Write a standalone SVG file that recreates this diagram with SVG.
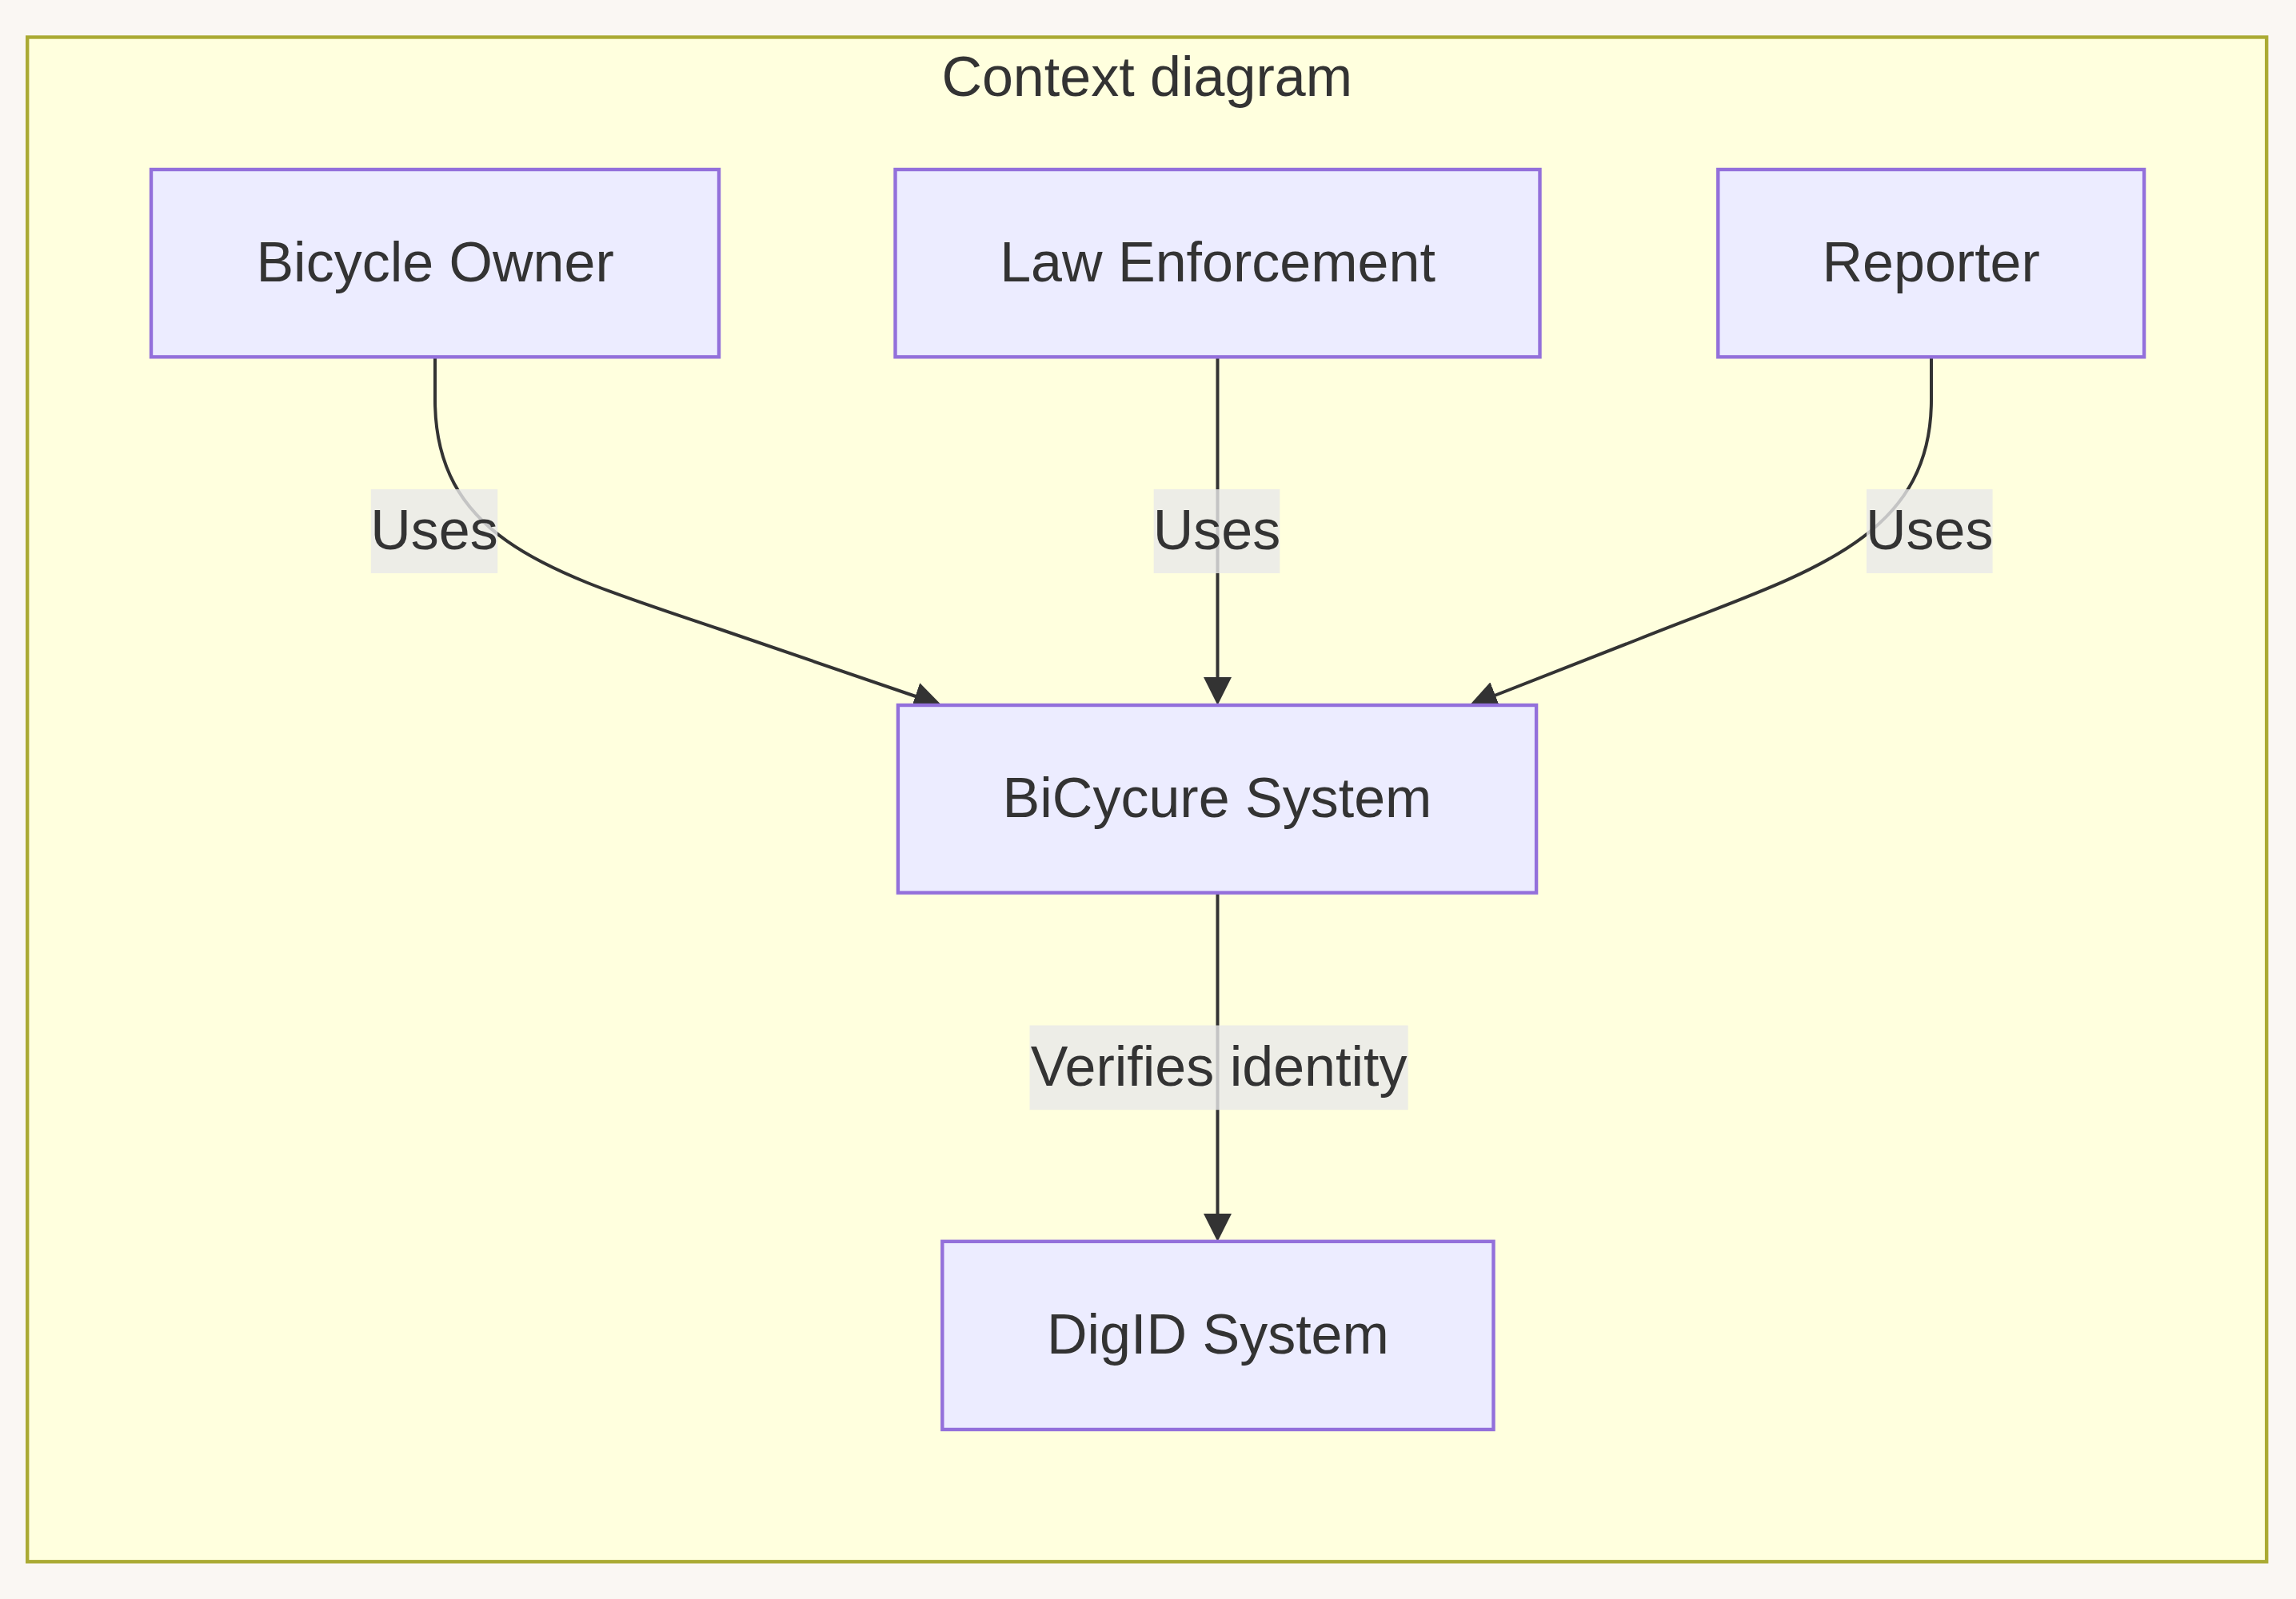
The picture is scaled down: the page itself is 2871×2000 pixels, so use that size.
<svg xmlns="http://www.w3.org/2000/svg" width="2871" height="2000" viewBox="0 0 2871 2000">
  <defs>
    <style>
      .txt { font-family: "Liberation Sans", Arial, Helvetica, sans-serif; font-size: 70px; fill: #333333; text-anchor: middle; }
      .node rect { fill: #ECECFF; stroke: #9370DB; stroke-width: 4.4; }
      .edge { fill: none; stroke: #333333; stroke-width: 4; }
      .lbl { fill: #e8e8e8; fill-opacity: 0.8; }
    </style>
    <marker id="arrow" viewBox="0 0 10 10" refX="5" refY="5" markerUnits="userSpaceOnUse" markerWidth="35" markerHeight="35" orient="auto">
      <path d="M0,0 L10,5 L0,10 z" fill="#333333"/>
    </marker>
  </defs>

  <rect x="0" y="0" width="2871" height="2000" fill="#faf7f3"/>

  <g id="cluster-context">
    <rect x="34.2" y="46.5" width="2800" height="1906.8" fill="#ffffde" stroke="#aaaa33" stroke-width="4.4"/>
    <text class="txt" x="1434.2" y="120">Context diagram</text>
  </g>

  <g id="connectors">
    <path class="edge" d="M544,448 L544,500 C544,680 700,719 900,787 L1161.1,876.5" marker-end="url(#arrow)"/>
    <path class="edge" d="M1522.5,448 L1522.5,864.5" marker-end="url(#arrow)"/>
    <path class="edge" d="M2415,448 L2415,500 C2415,680 2250,719 2050,799 L1853.5,876" marker-end="url(#arrow)"/>
    <path class="edge" d="M1522.5,1118 L1522.5,1535.5" marker-end="url(#arrow)"/>
  </g>

  <g id="edge-labels">
    <g id="label-owner-uses">
      <rect class="lbl" x="463.8" y="612" width="158.4" height="105"/>
      <text class="txt" x="543" y="686.5">Uses</text>
    </g>
    <g id="label-law-uses">
      <rect class="lbl" x="1442.7" y="612" width="157.6" height="105"/>
      <text class="txt" x="1521.5" y="686.5">Uses</text>
    </g>
    <g id="label-reporter-uses">
      <rect class="lbl" x="2334" y="612" width="157.6" height="105"/>
      <text class="txt" x="2412.8" y="686.5">Uses</text>
    </g>
    <g id="label-verifies">
      <rect class="lbl" x="1287.5" y="1282.5" width="473.2" height="105.7"/>
      <text class="txt" x="1524.1" y="1357.5">Verifies identity</text>
    </g>
  </g>

  <g id="node-bicycle-owner" class="node">
    <rect x="189" y="212" width="710" height="234.4"/>
    <text class="txt" x="544.1" y="352.2">Bicycle Owner</text>
  </g>
  <g id="node-law-enforcement" class="node">
    <rect x="1119.5" y="212" width="806" height="234.4"/>
    <text class="txt" x="1522.5" y="352.2">Law Enforcement</text>
  </g>
  <g id="node-reporter" class="node">
    <rect x="2148.3" y="212" width="532.8" height="234.4"/>
    <text class="txt" x="2414.7" y="352.2">Reporter</text>
  </g>
  <g id="node-bicycure" class="node">
    <rect x="1122.9" y="882" width="798.2" height="234.6"/>
    <text class="txt" x="1522" y="1022.4">BiCycure System</text>
  </g>
  <g id="node-digid" class="node">
    <rect x="1178.3" y="1552.8" width="689.2" height="235.2"/>
    <text class="txt" x="1522.9" y="1693.4">DigID System</text>
  </g>
</svg>
